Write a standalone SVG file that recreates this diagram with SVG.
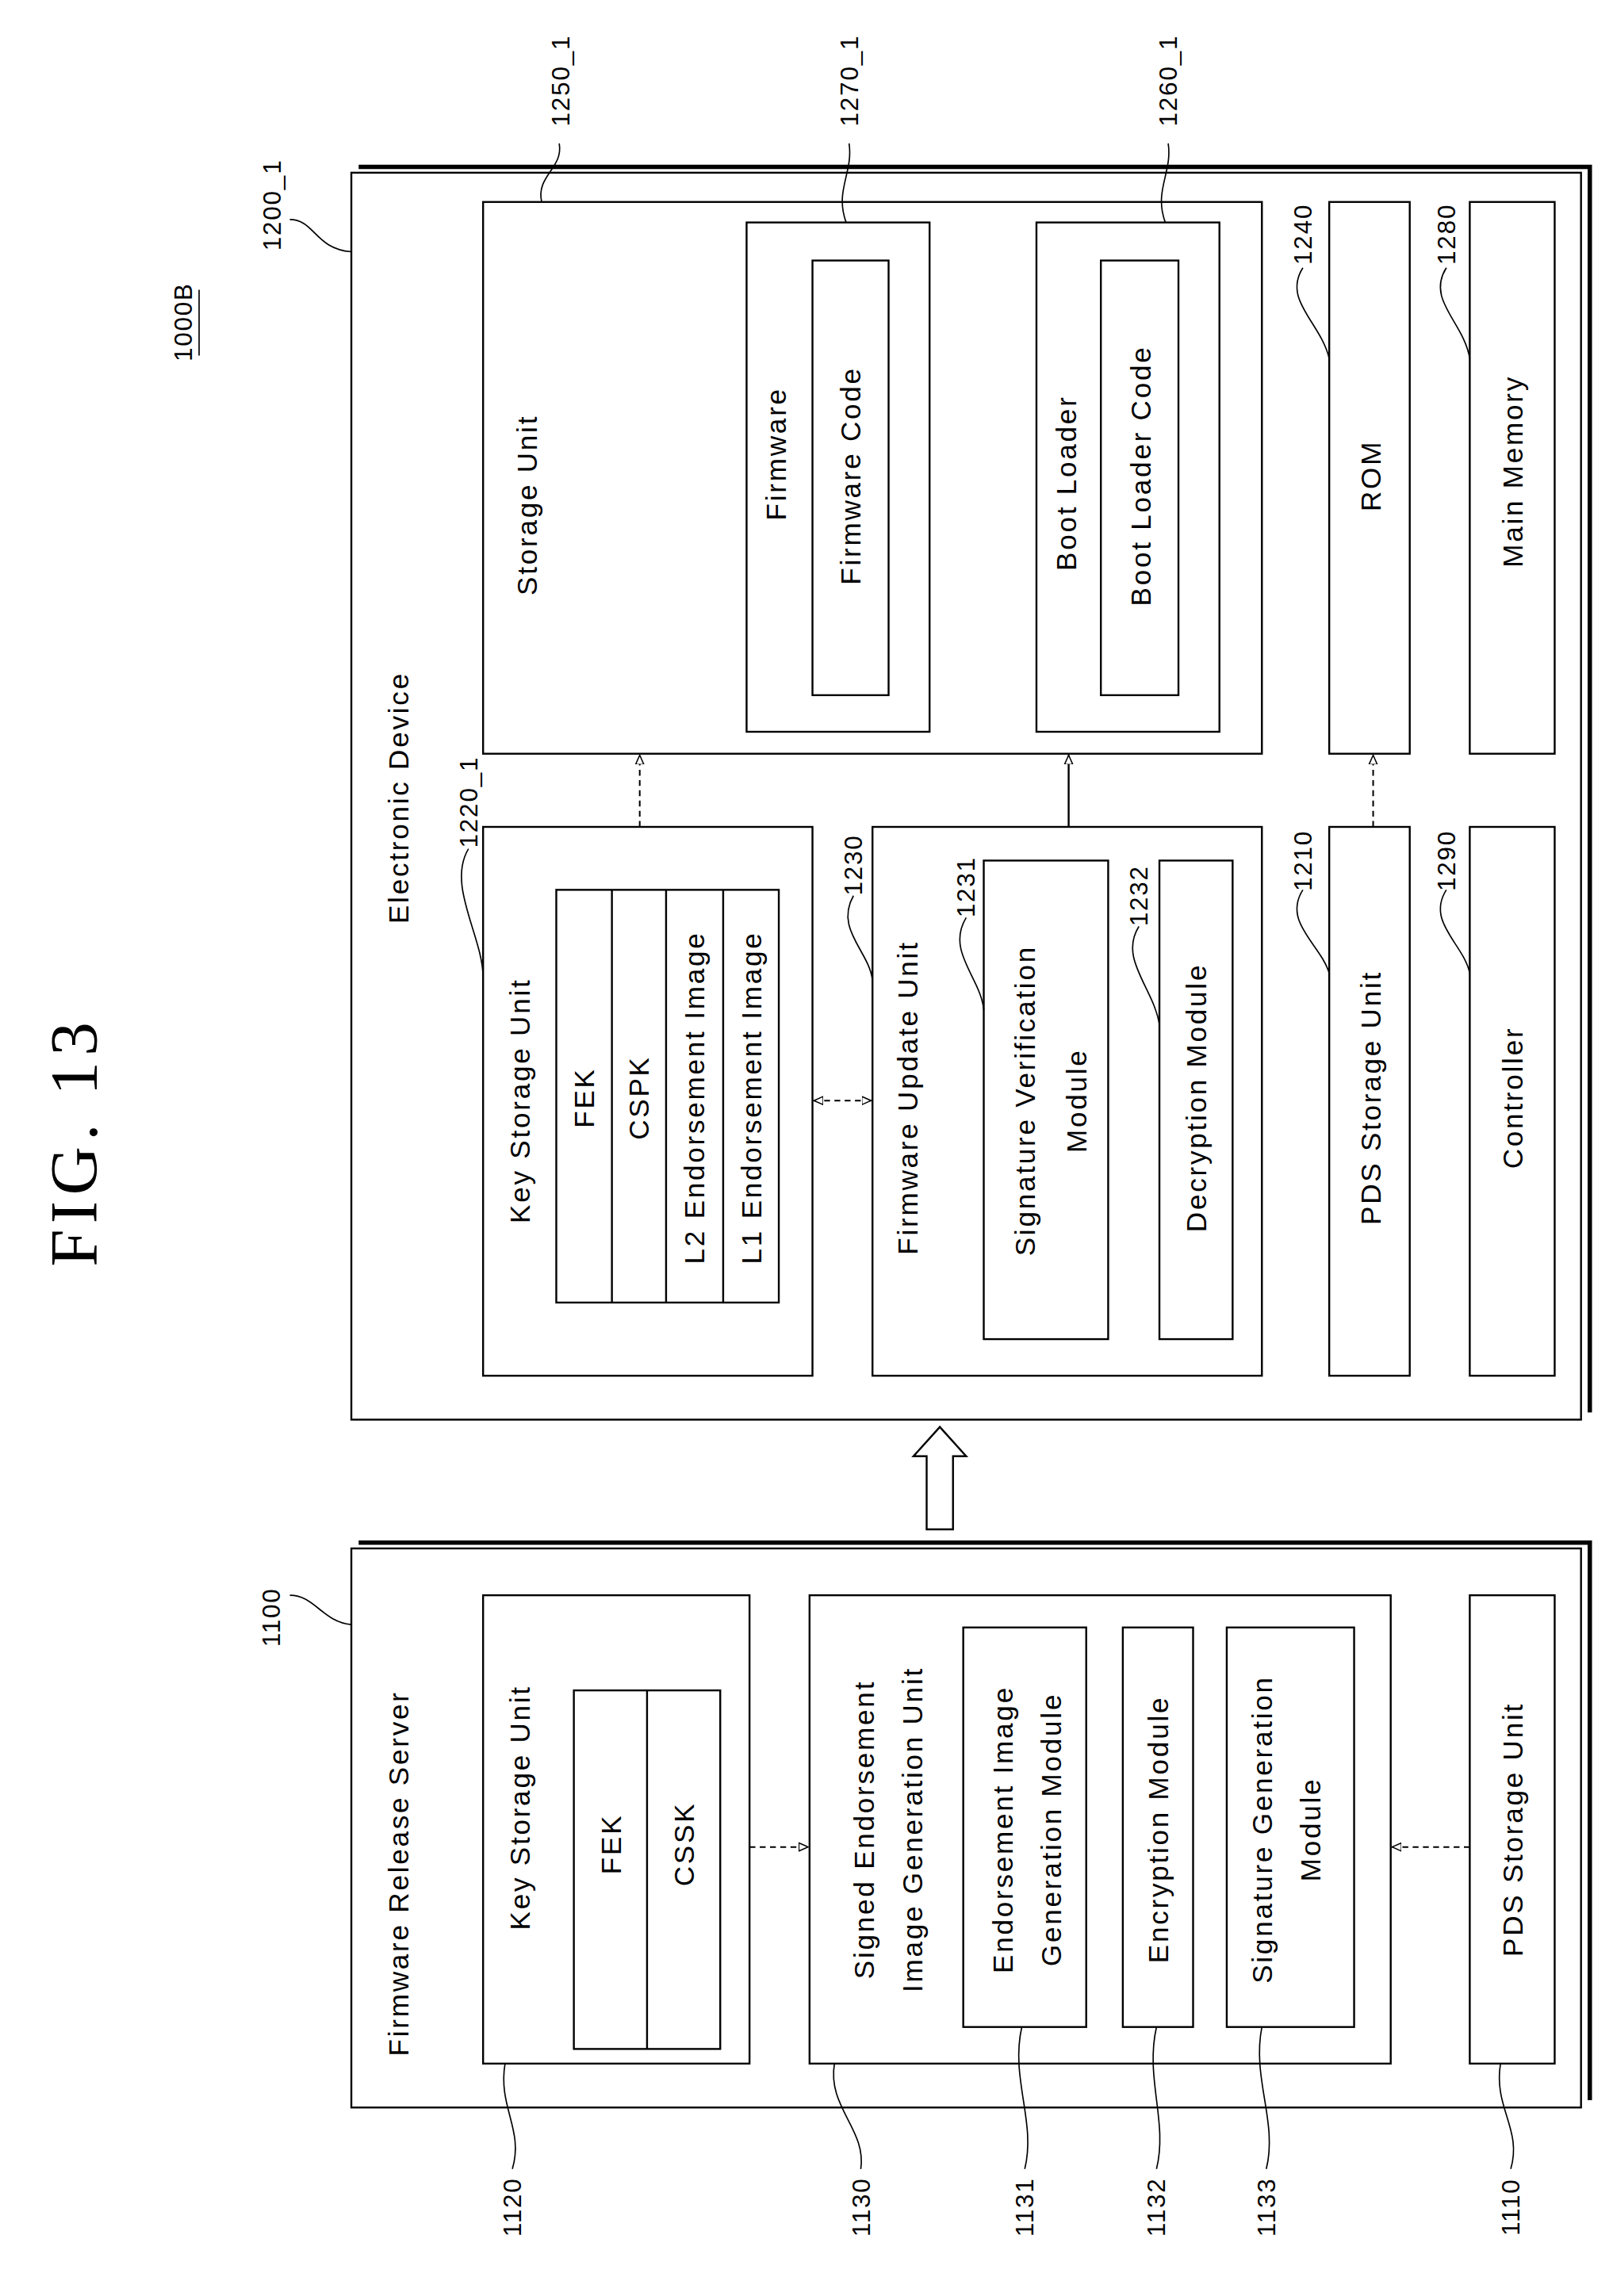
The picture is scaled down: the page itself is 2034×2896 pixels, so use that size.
<svg xmlns="http://www.w3.org/2000/svg" width="2034" height="2896" viewBox="0 0 2034 2896">
<defs>
<style>
.b{fill:none;stroke:#000;stroke-width:1.3}
.sh{fill:none;stroke:#000;stroke-width:3}
.l{fill:none;stroke:#000;stroke-width:0.9}
.d{fill:none;stroke:#000;stroke-width:1.1;stroke-dasharray:4 3}
.t{font-family:"Liberation Sans",Arial,sans-serif;font-size:19px;letter-spacing:1.5px;text-anchor:middle;fill:#000}
.n{font-family:"Liberation Sans",Arial,sans-serif;font-size:17px;letter-spacing:1px;text-anchor:middle;fill:#000}
</style>
<marker id="ah" viewBox="0 0 10 10" refX="9" refY="5" markerWidth="7" markerHeight="7" orient="auto-start-reverse" markerUnits="userSpaceOnUse"><path d="M0,1 L9,5 L0,9 Z" fill="#fff" stroke="#000" stroke-width="1.2"/></marker>
</defs>
<rect width="2034" height="2896" fill="#fff"/>
<g transform="scale(1.846)">
<text transform="translate(66,780) rotate(-90)" style="font-family:'Liberation Serif',serif;font-size:46px;letter-spacing:4px;text-anchor:middle">FIG. 13</text>
<g id="label-1000B"><text class="n" transform="translate(131,220) rotate(-90)">1000B</text><line class="l" x1="136" y1="198" x2="136" y2="243"/></g>

<g id="electronic-device">
<rect class="b" x="240" y="118" width="840" height="852"/>
<polyline class="sh" points="245,114 1086,114 1086,965"/>
<text class="t" transform="translate(279,545) rotate(-90)">Electronic Device</text>
<text class="n" transform="translate(192,140) rotate(-90)">1200_1</text>
<path class="l" d="M198,150 C215,150 215,170 240,172"/>
</g>
<g id="storage-unit">
<rect class="b" x="330" y="138" width="532" height="377"/>
<text class="t" transform="translate(367,345) rotate(-90)">Storage Unit</text>
<text class="n" transform="translate(389,55) rotate(-90)">1250_1</text>
<path class="l" d="M382,98 C385,115 366,120 370,138"/>
</g>
<g id="firmware">
<rect class="b" x="510" y="152" width="125" height="348"/>
<text class="t" transform="translate(537,310) rotate(-90)">Firmware</text>
<rect class="b" x="555" y="178" width="52" height="297"/>
<text class="t" transform="translate(588,325) rotate(-90)">Firmware Code</text>
<text class="n" transform="translate(586,55) rotate(-90)">1270_1</text>
<path class="l" d="M580,98 C583,118 570,130 578,152"/>
</g>
<g id="boot-loader">
<rect class="b" x="708" y="152" width="125" height="348"/>
<text class="t" transform="translate(735,330) rotate(-90)">Boot Loader</text>
<rect class="b" x="752" y="178" width="53" height="297"/>
<text class="t" transform="translate(786,325) rotate(-90)">Boot Loader Code</text>
<text class="n" transform="translate(804,55) rotate(-90)">1260_1</text>
<path class="l" d="M798,98 C801,118 788,130 796,152"/>
</g>
<g id="rom">
<rect class="b" x="908" y="138" width="55" height="377"/>
<text class="t" transform="translate(943,325) rotate(-90)">ROM</text>
<text class="n" transform="translate(896,160) rotate(-90)">1240</text>
<path class="l" d="M890,183 C876,205 902,220 908,245"/>
</g>
<g id="main-memory">
<rect class="b" x="1004" y="138" width="58" height="377"/>
<text class="t" transform="translate(1040,322) rotate(-90)">Main Memory</text>
<text class="n" transform="translate(994,160) rotate(-90)">1280</text>
<path class="l" d="M988,183 C974,205 1000,220 1004,245"/>
</g>
<g id="key-storage-1220">
<rect class="b" x="330" y="565" width="225" height="375"/>
<text class="t" transform="translate(362,752) rotate(-90)">Key Storage Unit</text>
<rect class="b" x="380" y="608" width="152" height="282"/>
<line class="b" x1="418" y1="608" x2="418" y2="890"/>
<line class="b" x1="455" y1="608" x2="455" y2="890"/>
<line class="b" x1="494" y1="608" x2="494" y2="890"/>
<text class="t" transform="translate(406,750) rotate(-90)">FEK</text>
<text class="t" transform="translate(443,750) rotate(-90)">CSPK</text>
<text class="t" transform="translate(481,750) rotate(-90)">L2 Endorsement Image</text>
<text class="t" transform="translate(520,750) rotate(-90)">L1 Endorsement Image</text>
<text class="n" transform="translate(326,548) rotate(-90)">1220_1</text>
<path class="l" d="M320,580 C305,605 330,640 330,668"/>
</g>
<g id="firmware-update-unit">
<rect class="b" x="596" y="565" width="266" height="375"/>
<text class="t" transform="translate(627,750) rotate(-90)">Firmware Update Unit</text>
<text class="n" transform="translate(589,591) rotate(-90)">1230</text>
<path class="l" d="M583,612 C570,635 594,650 596,670"/>
</g>
<g id="signature-verification-module">
<rect class="b" x="672" y="588" width="85" height="327"/>
<text class="t" transform="translate(707,752) rotate(-90)">Signature Verification</text>
<text class="t" transform="translate(742,752) rotate(-90)">Module</text>
<text class="n" transform="translate(666,606) rotate(-90)">1231</text>
<path class="l" d="M660,627 C646,650 670,668 672,690"/>
</g>
<g id="decryption-module">
<rect class="b" x="792" y="588" width="50" height="327"/>
<text class="t" transform="translate(824,750) rotate(-90)">Decryption Module</text>
<text class="n" transform="translate(784,612) rotate(-90)">1232</text>
<path class="l" d="M778,633 C764,655 788,675 792,700"/>
</g>
<g id="pds-storage-1210">
<rect class="b" x="908" y="565" width="55" height="375"/>
<text class="t" transform="translate(943,750) rotate(-90)">PDS Storage Unit</text>
<text class="n" transform="translate(896,588) rotate(-90)">1210</text>
<path class="l" d="M890,608 C876,630 902,645 908,665"/>
</g>
<g id="controller">
<rect class="b" x="1004" y="565" width="58" height="375"/>
<text class="t" transform="translate(1040,750) rotate(-90)">Controller</text>
<text class="n" transform="translate(994,588) rotate(-90)">1290</text>
<path class="l" d="M988,608 C974,630 1000,645 1004,665"/>
</g>

<g id="firmware-release-server">
<rect class="b" x="240" y="1058" width="840" height="382"/>
<polyline class="sh" points="245,1054 1086,1054 1086,1435"/>
<text class="t" transform="translate(279,1280) rotate(-90)">Firmware Release Server</text>
<text class="n" transform="translate(191,1105) rotate(-90)">1100</text>
<path class="l" d="M198,1090 C215,1090 220,1108 240,1110"/>
</g>
<g id="key-storage-1120">
<rect class="b" x="330" y="1090" width="182" height="320"/>
<text class="t" transform="translate(362,1235) rotate(-90)">Key Storage Unit</text>
<rect class="b" x="392" y="1155" width="100" height="245"/>
<line class="b" x1="442" y1="1155" x2="442" y2="1400"/>
<text class="t" transform="translate(424,1260) rotate(-90)">FEK</text>
<text class="t" transform="translate(474,1260) rotate(-90)">CSSK</text>
<text class="n" transform="translate(356,1508) rotate(-90)">1120</text>
<path class="l" d="M345,1410 C340,1440 358,1455 350,1482"/>
</g>
<g id="signed-endorsement-unit">
<rect class="b" x="553" y="1090" width="397" height="320"/>
<text class="t" transform="translate(597,1250) rotate(-90)">Signed Endorsement</text>
<text class="t" transform="translate(630,1250) rotate(-90)">Image Generation Unit</text>
<text class="n" transform="translate(594,1508) rotate(-90)">1130</text>
<path class="l" d="M570,1410 C565,1440 592,1455 588,1482"/>
</g>
<g id="endorsement-image-module">
<rect class="b" x="658" y="1112" width="84" height="273"/>
<text class="t" transform="translate(692,1250) rotate(-90)">Endorsement Image</text>
<text class="t" transform="translate(725,1250) rotate(-90)">Generation Module</text>
<text class="n" transform="translate(706,1508) rotate(-90)">1131</text>
<path class="l" d="M698,1385 C690,1420 708,1450 700,1482"/>
</g>
<g id="encryption-module">
<rect class="b" x="767" y="1112" width="48" height="273"/>
<text class="t" transform="translate(798,1250) rotate(-90)">Encryption Module</text>
<text class="n" transform="translate(796,1508) rotate(-90)">1132</text>
<path class="l" d="M790,1385 C782,1420 798,1450 790,1482"/>
</g>
<g id="signature-generation-module">
<rect class="b" x="838" y="1112" width="87" height="273"/>
<text class="t" transform="translate(869,1250) rotate(-90)">Signature Generation</text>
<text class="t" transform="translate(902,1250) rotate(-90)">Module</text>
<text class="n" transform="translate(871,1508) rotate(-90)">1133</text>
<path class="l" d="M862,1385 C855,1420 873,1450 865,1482"/>
</g>
<g id="pds-storage-1110">
<rect class="b" x="1004" y="1090" width="58" height="320"/>
<text class="t" transform="translate(1040,1250) rotate(-90)">PDS Storage Unit</text>
<text class="n" transform="translate(1038,1508) rotate(-90)">1110</text>
<path class="l" d="M1025,1410 C1020,1440 1040,1455 1032,1482"/>
</g>

<g id="connectors">
<line class="d" x1="437" y1="565" x2="437" y2="516" marker-end="url(#ah)"/>
<line class="b" x1="730" y1="565" x2="730" y2="516" marker-end="url(#ah)"/>
<line class="d" x1="938" y1="565" x2="938" y2="516" marker-end="url(#ah)"/>
<line class="d" x1="556" y1="752" x2="595" y2="752" marker-start="url(#ah)" marker-end="url(#ah)"/>
<line class="d" x1="512" y1="1262" x2="552" y2="1262" marker-end="url(#ah)"/>
<line class="d" x1="1004" y1="1262" x2="951" y2="1262" marker-end="url(#ah)"/>
<polygon class="b" points="633,1045 651,1045 651,995 660,995 642,975 624,995 633,995"/>
</g>
</g>
</svg>
